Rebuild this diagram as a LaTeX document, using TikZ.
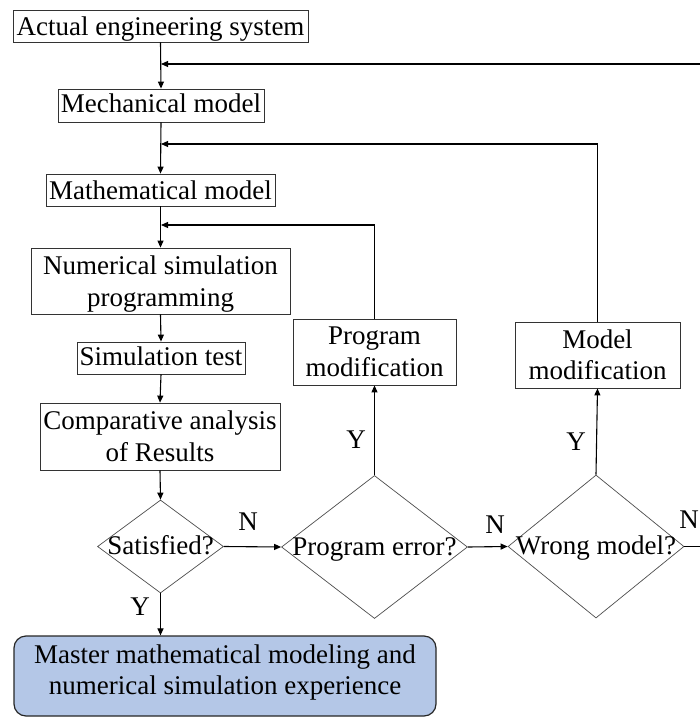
\documentclass[tikz,border=0pt]{standalone}
\usepackage{fontspec}
\setmainfont{Liberation Serif}
\usetikzlibrary{arrows.meta,shapes.geometric}
\begin{document}
\begin{tikzpicture}[x=1pt,y=-1pt,
  every node/.style={font=\rmfamily\fontsize{27}{31.5}\selectfont},
  box/.style={draw=black!80,line width=0.8pt,inner sep=0pt,align=center},
  dia/.style={draw=black!70,line width=0.7pt,shape=diamond,inner sep=0pt},
  dl/.style={inner sep=0pt,text height=20pt,text depth=4pt},
  ml/.style={inner sep=0pt,align=center},
  final/.style={draw=black!85,line width=1.2pt,fill=blueish,rounded corners=12pt,inner sep=0pt},
  arr/.style={line width=1.1pt,-{Triangle[length=7pt,width=6pt]}},
  ln/.style={line width=1.1pt},
  lbl/.style={inner sep=0pt}]
\definecolor{blueish}{HTML}{B4C7E7}
\useasboundingbox (0,0) rectangle (700,718);
% main column
\node[box,minimum width=295,minimum height=32,text height=22pt,text depth=4pt] (a) at (160.5,26) {Actual engineering system};
\node[box,minimum width=206,minimum height=33,text height=19pt,text depth=6pt] (mech) at (161,105.5) {Mechanical model};
\node[box,minimum width=229,minimum height=32,text height=22.5pt,text depth=4pt] (math) at (160.5,190) {Mathematical model};
\node[box,minimum width=259,minimum height=66,label={[ml,yshift=-3pt]center:Numerical simulation\\programming}] (num) at (160.5,281) {};
\node[box,minimum width=168,minimum height=32,text height=20pt,text depth=6pt] (sim) at (161,358) {Simulation test};
\node[box,minimum width=240,minimum height=67] (comp) at (160,436.5) {Comparative analysis\\of Results};
\node[dia,minimum width=126,minimum height=93,label={[dl]center:Satisfied?}] (sat) at (160.5,546.5) {};
\node[dia,minimum width=186,minimum height=143,label={[dl]center:Program error?}] (perr) at (374.5,547) {};
\node[dia,minimum width=176,minimum height=143,label={[dl]center:Wrong model?}] (wm) at (596,546.5) {};
\node[box,minimum width=163,minimum height=66] (pm) at (374.5,352) {Program\\modification};
\node[box,minimum width=165,minimum height=66] (mm) at (597.5,355) {Model\\modification};
\node[final,minimum width=422,minimum height=80,label={[ml,yshift=3.5pt]center:Master mathematical modeling and\\numerical simulation experience}] (master) at (225,676) {};
% junction coordinates
\coordinate (j1) at (161,64);
\coordinate (j2) at (161,144);
\coordinate (j3) at (161,225);
\coordinate (r1) at (700,64);
\coordinate (r2) at (700,546.5);
% main arrows
\draw[arr] (a.south) -- (mech.north);
\draw[arr] (mech.south) -- (math.north);
\draw[arr] (math.south) -- (num.north);
\draw[arr] (num.south) -- (sim.north);
\draw[arr] (sim.south) -- (comp.north);
\draw[arr] (comp.south) -- (sat.north);
\draw[arr] (sat.south) -- (sat.south |- master.north);
\draw[arr] (sat.east) -- (perr.west);
\draw[arr] (perr.east) -- (wm.west);
\draw[ln] (wm.east) -- (r2);
\draw[arr] (perr.north) -- (pm.south);
\draw[arr] (wm.north) -- (mm.south);
% feedback
\draw[arr] (pm.north) |- (j3);
\draw[arr] (mm.north) |- (j2);
\draw[arr] (r1) -- (j1);
% labels
\node[lbl] (n1) at (248,522) {N};
\node[lbl] (n2) at (495,525) {N};
\node[lbl] (n3) at (689,520) {N};
\node[lbl] (y1) at (356,440) {Y};
\node[lbl] (y2) at (576,442) {Y};
\node[lbl] (y3) at (140,607) {Y};
\end{tikzpicture}
\end{document}
